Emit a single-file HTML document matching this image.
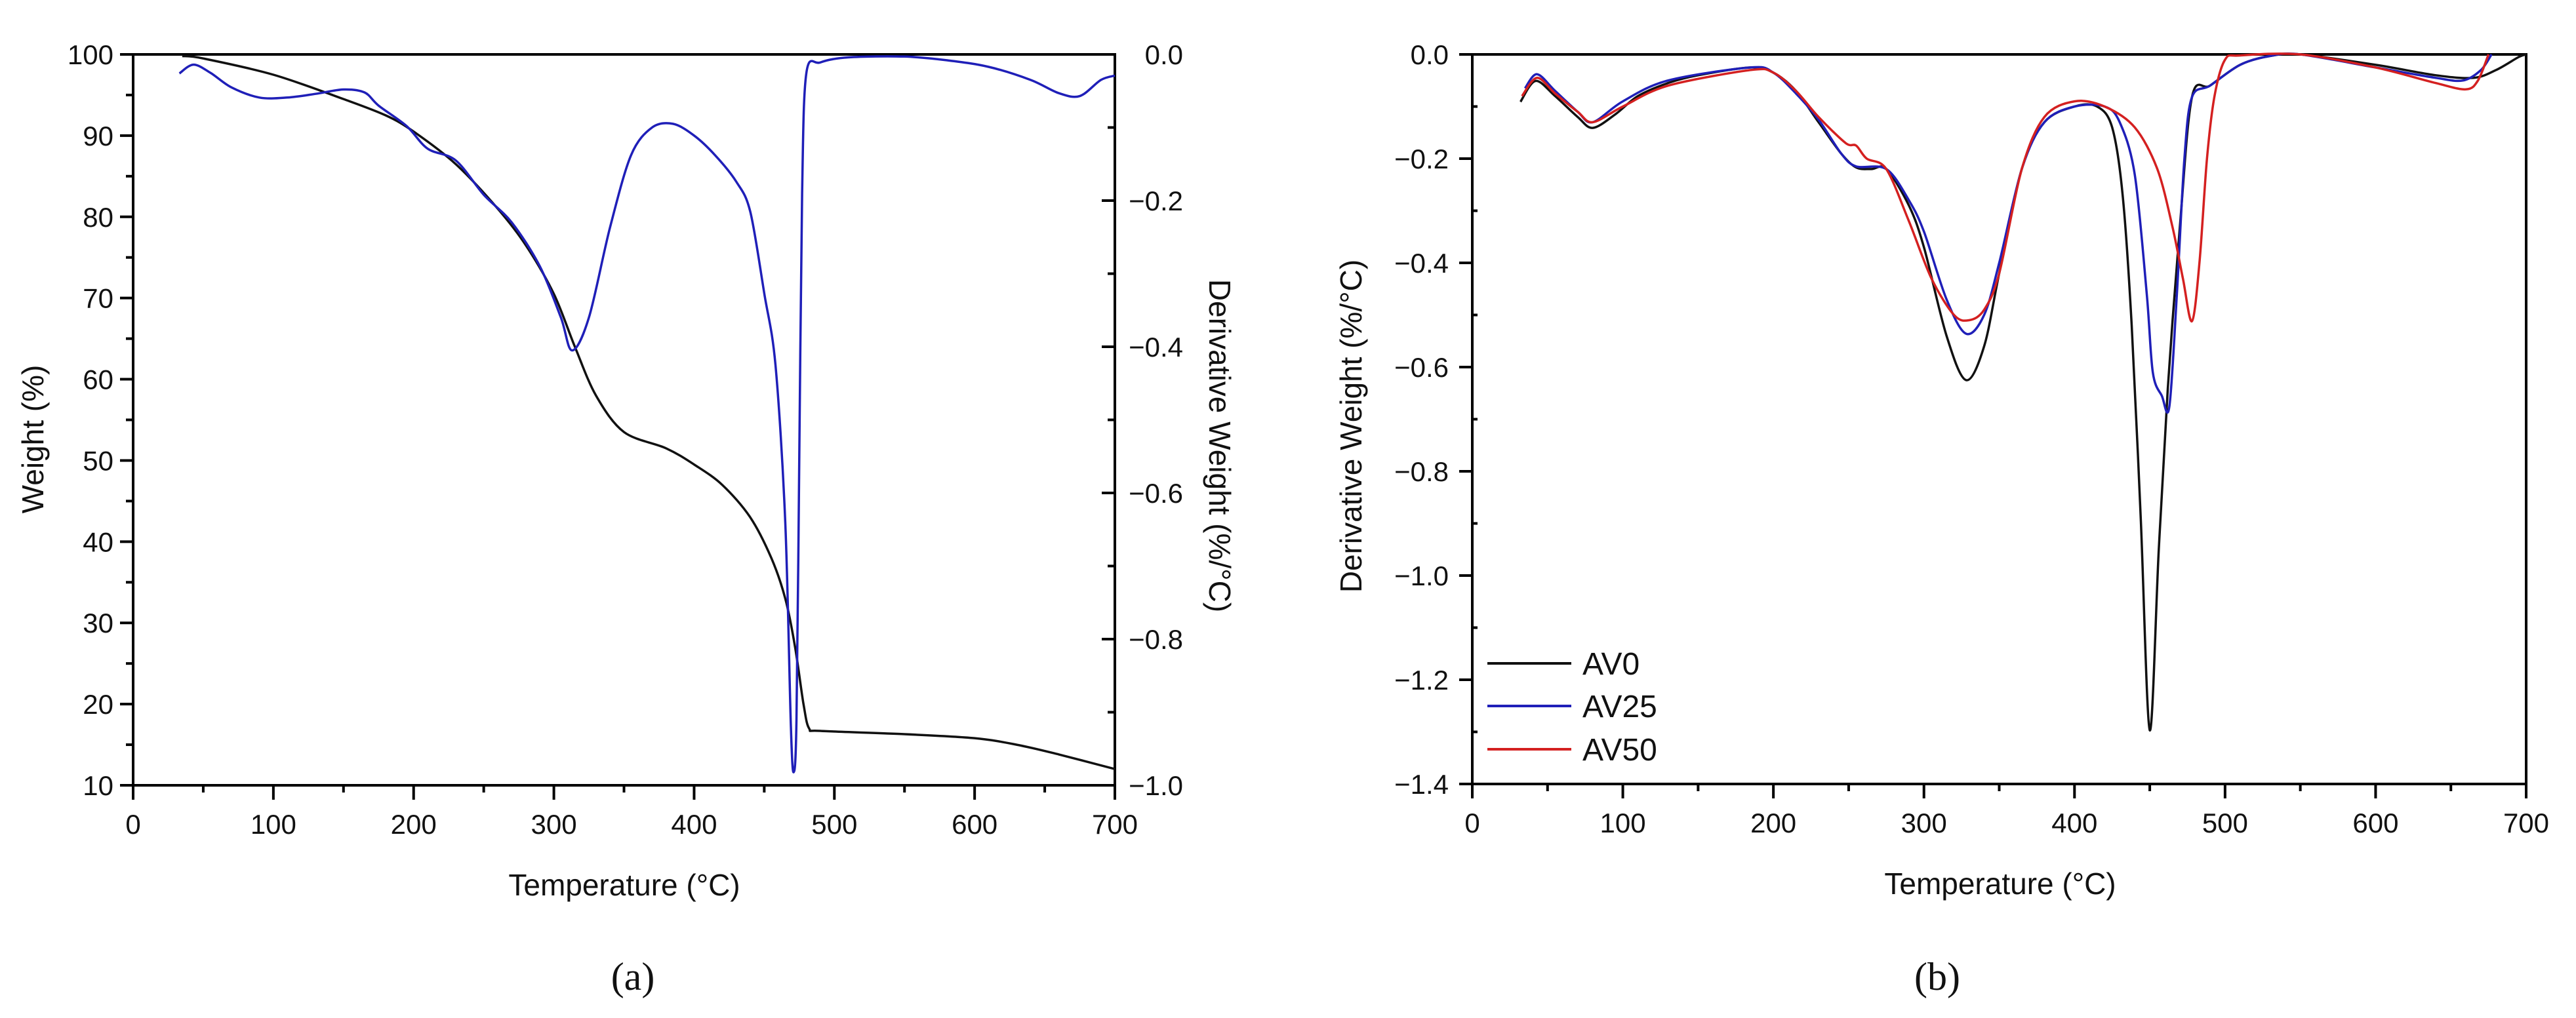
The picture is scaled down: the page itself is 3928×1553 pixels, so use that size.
<!DOCTYPE html>
<html><head><meta charset="utf-8"><style>
html,body{margin:0;padding:0;background:#fff}
svg{display:block}
text{font-family:"Liberation Sans",sans-serif;fill:#111}
</style></head><body>
<svg id="c" width="3928" height="1553" viewBox="0 0 3928 1553" xmlns="http://www.w3.org/2000/svg"></svg>
<script>
// Panel (a) data
const aWeightT = [35,50,100,150,180,200,230,260,280,300,315,330,350,380,400,420,440,455,465,472,478,482,490,550,600,630,660,700];
const aWeight  = [99.8,99.5,97.5,94.5,92.5,90.5,86.5,81,76.5,70.5,64,58,53.5,51.5,49.5,47,43,38,33,27,20,17,16.7,16.3,15.8,15,13.8,12];
const aDerivT = [33,43,55,70,90,110,130,150,165,175,195,210,230,250,270,290,305,313,325,340,355,370,385,400,415,430,440,450,458,465,469,471,473,475,477,480,490,510,550,580,610,640,660,675,690,700];
const aDeriv  = [-0.026,-0.014,-0.025,-0.045,-0.059,-0.059,-0.054,-0.048,-0.052,-0.07,-0.098,-0.129,-0.145,-0.192,-0.23,-0.29,-0.36,-0.405,-0.36,-0.237,-0.138,-0.1,-0.095,-0.111,-0.138,-0.174,-0.215,-0.327,-0.425,-0.64,-0.92,-0.982,-0.91,-0.55,-0.19,-0.026,-0.011,-0.004,-0.003,-0.008,-0.017,-0.035,-0.053,-0.057,-0.035,-0.029];
// Panel (b) data
const av0T = [32,42,55,70,80,95,110,130,150,185,200,215,230,245,255,265,275,290,300,315,328,340,350,365,380,400,415,425,432,438,444,450,456,462,470,478,490,510,530,550,600,640,665,680,695,700];
const av0  = [-0.091,-0.051,-0.08,-0.12,-0.141,-0.115,-0.08,-0.055,-0.04,-0.025,-0.035,-0.07,-0.13,-0.19,-0.217,-0.22,-0.22,-0.29,-0.37,-0.54,-0.625,-0.56,-0.42,-0.22,-0.13,-0.1,-0.1,-0.14,-0.27,-0.52,-0.89,-1.297,-0.95,-0.64,-0.33,-0.082,-0.06,-0.02,-0.003,0,-0.02,-0.04,-0.045,-0.03,-0.005,0];
const av25T = [35,43,55,70,80,100,130,185,200,215,230,245,255,275,290,300,315,328,340,350,365,380,400,420,430,440,448,452,458,463,468,473,478,490,510,530,550,600,640,658,670,677];
const av25  = [-0.065,-0.038,-0.07,-0.11,-0.13,-0.09,-0.05,-0.025,-0.035,-0.075,-0.125,-0.19,-0.215,-0.22,-0.28,-0.34,-0.47,-0.536,-0.5,-0.4,-0.22,-0.13,-0.1,-0.1,-0.13,-0.23,-0.46,-0.61,-0.655,-0.676,-0.46,-0.2,-0.082,-0.06,-0.02,-0.003,0,-0.025,-0.045,-0.05,-0.03,0];
const av50T = [33,43,55,70,80,100,130,185,200,215,230,248,255,262,275,290,305,320,330,340,350,365,380,400,420,440,455,465,472,478,483,488,493,500,510,550,600,640,660,668,675];
const av50  = [-0.08,-0.045,-0.075,-0.11,-0.13,-0.1,-0.06,-0.03,-0.035,-0.07,-0.12,-0.17,-0.175,-0.2,-0.22,-0.32,-0.43,-0.5,-0.51,-0.49,-0.42,-0.22,-0.12,-0.09,-0.1,-0.14,-0.22,-0.33,-0.43,-0.512,-0.4,-0.2,-0.08,-0.01,-0.002,0,-0.025,-0.055,-0.067,-0.05,0];
const xTicks = [0,100,200,300,400,500,600,700];
const aLeftTicks = [10,20,30,40,50,60,70,80,90,100];
const aRightTicks = [0,-0.2,-0.4,-0.6,-0.8,-1.0];
const bTicks = [0,-0.2,-0.4,-0.6,-0.8,-1.0,-1.2,-1.4];

const svg = document.getElementById('c');
const NS = 'http://www.w3.org/2000/svg';
function mk(tag, attrs, parent){const e=document.createElementNS(NS,tag);for(const k in attrs)e.setAttribute(k,attrs[k]);(parent||svg).appendChild(e);return e;}
function txt(s, attrs){const e=mk('text',attrs);e.textContent=s;return e;}

const A = {x0:203,x1:1700,y0:83,y1:1198};
const axX = t => A.x0 + t/700*(A.x1-A.x0);
const axYL = w => A.y1 - (w-10)/90*(A.y1-A.y0);
const axYR = d => A.y0 + (-d)/1.0*(A.y1-A.y0);
const B = {x0:2245,x1:3852,y0:83,y1:1196};
const bxX = t => B.x0 + t/700*(B.x1-B.x0);
const bxY = d => B.y0 + (-d)/1.4*(B.y1-B.y0);

function path(xs, ys, fx, fy, color, name){
  const P = xs.map((x,i)=>[fx(x),fy(ys[i])]);
  let d='M'+P[0][0].toFixed(1)+','+P[0][1].toFixed(1);
  const k=0.16;
  for(let i=0;i<P.length-1;i++){
    const p0=P[Math.max(0,i-1)],p1=P[i],p2=P[i+1],p3=P[Math.min(P.length-1,i+2)];
    const c1=[p1[0]+(p2[0]-p0[0])*k,p1[1]+(p2[1]-p0[1])*k];
    const c2=[p2[0]-(p3[0]-p1[0])*k,p2[1]-(p3[1]-p1[1])*k];
    d+='C'+c1[0].toFixed(1)+','+c1[1].toFixed(1)+' '+c2[0].toFixed(1)+','+c2[1].toFixed(1)+' '+p2[0].toFixed(1)+','+p2[1].toFixed(1);
  }
  const p = mk('path',{d:d,fill:'none',stroke:color,'stroke-width':3.5,'stroke-linejoin':'round'});
  
  
  return p;
}

// ---- Panel A ----
let f = mk('rect',{x:A.x0,y:A.y0,width:A.x1-A.x0,height:A.y1-A.y0,fill:'none',stroke:'#000','stroke-width':4});


for(let t=0;t<=700;t+=50){
  const big = t%100===0;
  mk('line',{x1:axX(t),x2:axX(t),y1:A.y1,y2:A.y1+(big?22:11),stroke:'#000','stroke-width':4});
}
xTicks.forEach(t=>{const e=txt(String(t),{x:axX(t),y:A.y1+74,'font-size':42,'text-anchor':'middle'});
  
  });
for(let w=10;w<=100;w+=5){
  const big = w%10===0;
  mk('line',{x1:A.x0-(big?20:11),x2:A.x0,y1:axYL(w),y2:axYL(w),stroke:'#000','stroke-width':4});
}
aLeftTicks.forEach(w=>{const e=txt(String(w),{x:A.x0-30,y:axYL(w)+15,'font-size':42,'text-anchor':'end'});
  
  });
for(let i=0;i<=10;i++){
  const d=-i/10, big=i%2===0;
  mk('line',{x1:A.x1-(big?20:11),x2:A.x1,y1:axYR(d),y2:axYR(d),stroke:'#000','stroke-width':4});
}
aRightTicks.forEach(d=>{const e=txt(d===0?'0.0':'\u2212'+Math.abs(d).toFixed(1),{x:A.x1+104,y:axYR(d)+15,'font-size':42,'text-anchor':'end'});
  
  });
let t1 = txt('Weight (%)',{x:0,y:0,'font-size':46,'text-anchor':'middle',transform:'translate(66,670) rotate(-90)'});


let t2 = txt('Derivative Weight (%/\u00B0C)',{x:0,y:0,'font-size':46,'text-anchor':'middle',transform:'translate(1844,680) rotate(90)'});


let t3 = txt('Temperature (\u00B0C)',{x:952,y:1366,'font-size':46,'text-anchor':'middle'});


let t4 = txt('(a)',{x:965,y:1510,'font-size':60,'text-anchor':'middle'});
t4.style.fontFamily='"Liberation Serif",serif';


path(aWeightT,aWeight,axX,axYL,'#111','weight-curve');
path(aDerivT,aDeriv,axX,axYR,'#1f1fb8','derivative-curve-a');

// ---- Panel B ----
f = mk('rect',{x:B.x0,y:B.y0,width:B.x1-B.x0,height:B.y1-B.y0,fill:'none',stroke:'#000','stroke-width':4});


for(let t=0;t<=700;t+=50){
  const big=t%100===0;
  mk('line',{x1:bxX(t),x2:bxX(t),y1:B.y1,y2:B.y1+(big?22:11),stroke:'#000','stroke-width':4});
}
xTicks.forEach(t=>{const e=txt(String(t),{x:bxX(t),y:B.y1+74,'font-size':42,'text-anchor':'middle'});
  
  });
for(let i=0;i<=14;i++){
  const d=-i/10, big=i%2===0;
  mk('line',{x1:B.x0-(big?20:0),x2:B.x0+(big?0:8),y1:bxY(d),y2:bxY(d),stroke:'#000','stroke-width':4});
}
bTicks.forEach(d=>{const e=txt(d===0?'0.0':'\u2212'+Math.abs(d).toFixed(1),{x:B.x0-36,y:bxY(d)+15,'font-size':42,'text-anchor':'end'});
  
  });
let t5 = txt('Derivative Weight (%/\u00B0C)',{x:0,y:0,'font-size':46,'text-anchor':'middle',transform:'translate(2076,650) rotate(-90)'});


let t6 = txt('Temperature (\u00B0C)',{x:3050,y:1364,'font-size':46,'text-anchor':'middle'});


let t7 = txt('(b)',{x:2954,y:1510,'font-size':60,'text-anchor':'middle'});
t7.style.fontFamily='"Liberation Serif",serif';


path(av0T,av0,bxX,bxY,'#111','series-av0');
path(av25T,av25,bxX,bxY,'#1f1fb8','series-av25');
path(av50T,av50,bxX,bxY,'#d42020','series-av50');

const legNames=['AV0','AV25','AV50'], legColors=['#111','#1f1fb8','#d42020'], legY=[1012,1077,1143];
legNames.forEach((n,i)=>{
  const g=mk('g',{});
  
  
  mk('line',{x1:2268,x2:2396,y1:legY[i],y2:legY[i],stroke:legColors[i],'stroke-width':4},g);
  const e=mk('text',{x:2413,y:legY[i]+17,'font-size':48},g); e.textContent=n;
});
</script>
</body></html>
